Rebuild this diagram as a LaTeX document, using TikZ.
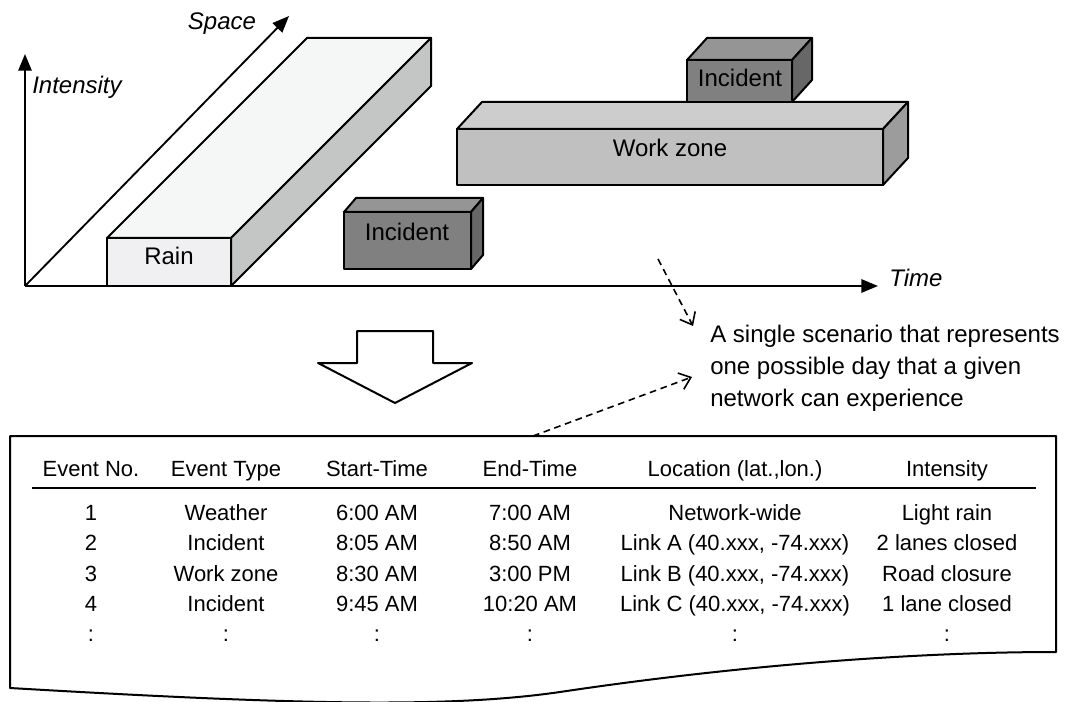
\documentclass[tikz,border=0pt]{standalone}
\usepackage{fontspec}
\setmainfont{Liberation Sans}
\usetikzlibrary{arrows.meta}
\newcommand{\mycuboid}[9]{%
  \filldraw[boxline, fill=#8] (#1,#2) -- ({#1+#5},{#2+#6}) -- ({#3+#5},{#2+#6}) -- (#3,#2) -- cycle;
  \filldraw[boxline, fill=#9] (#3,#2) -- ({#3+#5},{#2+#6}) -- ({#3+#5},{#4+#6}) -- (#3,#4) -- cycle;
  \filldraw[boxline, fill=#7] (#1,#2) rectangle (#3,#4);
}
\begin{document}
\begin{tikzpicture}[x=0.75pt,y=-0.75pt,
  boxline/.style={draw=black,line width=1.5pt,line join=round},
  axis/.style={line width=1.4pt,-{Triangle[length=12.5pt,width=10pt]}},
  dasharrow/.style={dash pattern=on 5pt off 3.5pt,line width=1.2pt,-{Straight Barb[length=8pt,width=13pt]}},
  lbl/.style={font=\fontsize{18}{22}\selectfont,inner sep=0pt},
  axlbl/.style={font=\fontsize{18}{22}\selectfont\itshape,inner sep=0pt},
  cell/.style={font=\fontsize{16.5}{20}\selectfont,inner sep=0pt,anchor=base},
]
\useasboundingbox (0,0) rectangle (1067,702);

% axes
\coordinate (O) at (25,286);
\coordinate (Iend) at (25,54);
\coordinate (Send) at (289,16);
\coordinate (Tend) at (878,286);
\draw[axis] (O) -- (Iend);
\draw[axis] (O) -- (Send);
\draw[axis] (O) -- (Tend);
\node[axlbl,anchor=west] (intensity) at (32,87) {Intensity};
\node[axlbl] (space) at (222,24) {Space};
\node[axlbl,anchor=west] (time) at (889,278) {Time};

% boxes
\definecolor{rainfront}{HTML}{F0F0F2}
\definecolor{raintop}{HTML}{F5F6F6}
\definecolor{rainside}{HTML}{C4C6C5}
\definecolor{incfront}{HTML}{808080}
\definecolor{inctop}{HTML}{959595}
\definecolor{incside}{HTML}{676767}
\definecolor{wzfront}{HTML}{C0C0C0}
\definecolor{wztop}{HTML}{CDCDCD}
\definecolor{wzside}{HTML}{9C9C9C}

\mycuboid{107}{238}{231}{286}{200}{-200}{rainfront}{raintop}{rainside}
\node[lbl] (rain) at (169,256) {Rain};

\mycuboid{344}{212}{471}{269}{12}{-14}{incfront}{inctop}{incside}
\node[lbl] (inc1) at (407,232) {Incident};

\mycuboid{457}{129}{883}{185}{25}{-27}{wzfront}{wztop}{wzside}
\node[lbl] (wz) at (670,148) {Work zone};

\mycuboid{687}{60}{792}{102}{20}{-22}{incfront}{inctop}{incside}
\node[lbl] (inc2) at (740,78) {Incident};

% big arrow
\filldraw[boxline,fill=white] (357,331) -- (433,331) -- (433,363) -- (472,363) -- (395,403) -- (318,363) -- (357,363) -- cycle;

% scenario text
\node[lbl,anchor=base west] (s1) at (710,342) {A single scenario that represents};
\node[lbl,anchor=base west] (s2) at (710,374) {one possible day that a given};
\node[lbl,anchor=base west] (s3) at (710,406) {network can experience};

% document
\draw[line width=1.5pt,line join=round] (10,436) -- (1056,436) -- (1056,652)
  .. controls (900,652) and (720,668) .. (560,692)
  .. controls (450,708) and (300,705) .. (10,688) -- cycle;
\coordinate (docTop) at (533,436);
\coordinate (arrA) at (658,259);
\coordinate (arrAend) at (693,326);
\coordinate (arrBend) at (692,377);
\draw[dasharrow] (arrA) -- (arrAend);
\draw[dasharrow] (docTop) -- (arrBend);

% table header
\node[cell] (h1) at (91,476) {Event No.};
\node[cell] (h2) at (226,476) {Event Type};
\node[cell] (h3) at (377,476) {Start-Time};
\node[cell] (h4) at (530,476) {End-Time};
\node[cell] (h5) at (735,476) {Location (lat.,lon.)};
\node[cell] (h6) at (947,476) {Intensity};
\coordinate (ruleL) at (32,488);
\coordinate (ruleR) at (1036,488);
\draw[line width=1.2pt] (ruleL) -- (ruleR);

% rows
\node[cell] (a1) at (91,520) {1};
\node[cell] (a2) at (226,520) {Weather};
\node[cell] (a3) at (377,520) {6:00 AM};
\node[cell] (a4) at (530,520) {7:00 AM};
\node[cell] (a5) at (735,520) {Network-wide};
\node[cell] (a6) at (947,520) {Light rain};

\node[cell] (b1) at (91,550) {2};
\node[cell] (b2) at (226,550) {Incident};
\node[cell] (b3) at (377,550) {8:05 AM};
\node[cell] (b4) at (530,550) {8:50 AM};
\node[cell] (b5) at (735,550) {Link A (40.xxx, -74.xxx)};
\node[cell] (b6) at (947,550) {2 lanes closed};

\node[cell] (c1) at (91,581) {3};
\node[cell] (c2) at (226,581) {Work zone};
\node[cell] (c3) at (377,581) {8:30 AM};
\node[cell] (c4) at (530,581) {3:00 PM};
\node[cell] (c5) at (735,581) {Link B (40.xxx, -74.xxx)};
\node[cell] (c6) at (947,581) {Road closure};

\node[cell] (d1) at (91,611) {4};
\node[cell] (d2) at (226,611) {Incident};
\node[cell] (d3) at (377,611) {9:45 AM};
\node[cell] (d4) at (530,611) {10:20 AM};
\node[cell] (d5) at (735,611) {Link C (40.xxx, -74.xxx)};
\node[cell] (d6) at (947,611) {1 lane closed};

\node[cell] (e1) at (91,641) {:};
\node[cell] (e2) at (226,641) {:};
\node[cell] (e3) at (377,641) {:};
\node[cell] (e4) at (530,641) {:};
\node[cell] (e5) at (735,641) {:};
\node[cell] (e6) at (947,641) {:};
\end{tikzpicture}
\end{document}
